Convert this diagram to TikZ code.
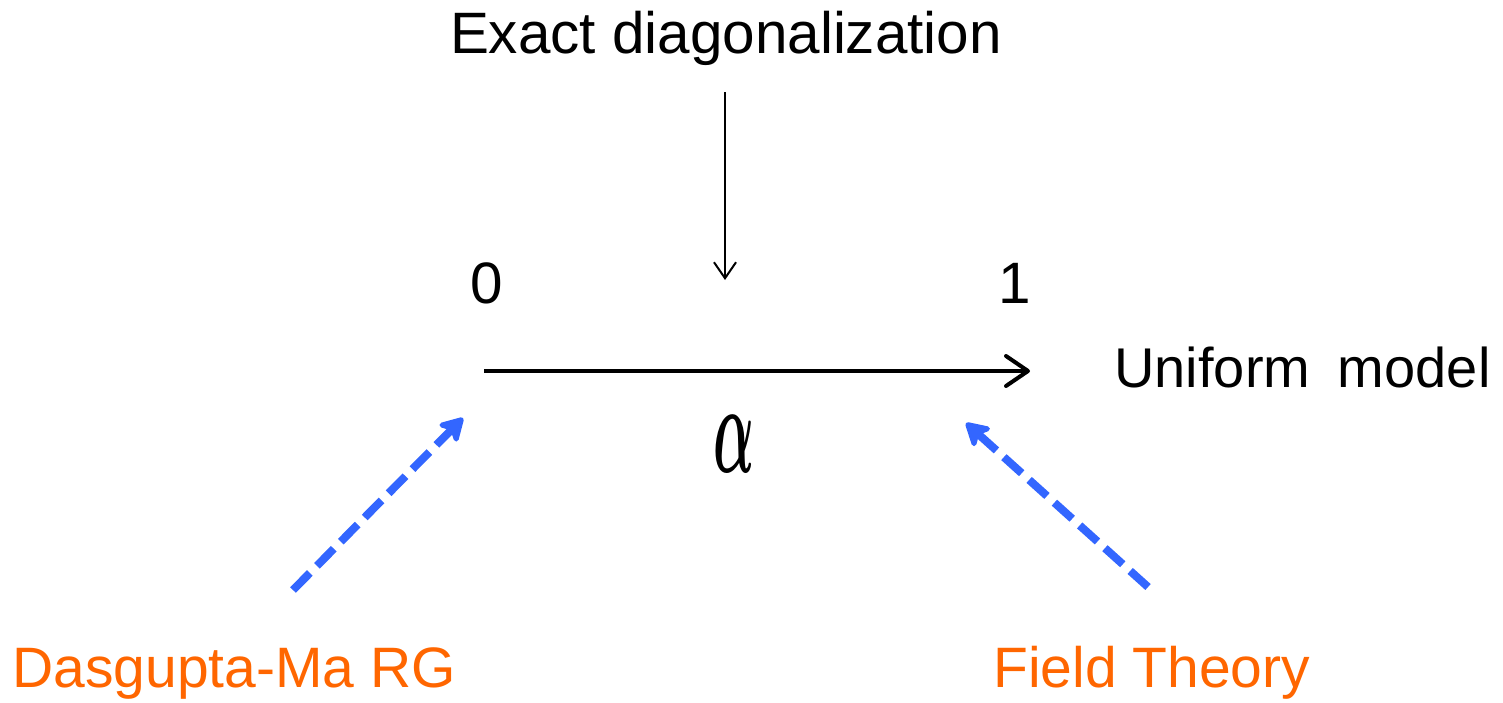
\documentclass[tikz,border=0pt]{standalone}
\usepackage{amsmath}
\usepackage{fontspec}
\setmainfont{Liberation Sans}
\usetikzlibrary{arrows.meta}
\definecolor{dblue}{HTML}{3366FF}
\definecolor{lorange}{HTML}{FF6600}
\tikzset{
  lbl/.style={inner sep=0pt, font=\fontsize{29.2}{30}\selectfont},
  olbl/.style={lbl, text=lorange, font=\fontsize{28.5}{30}\selectfont},
  thinarr/.style={line width=1pt, -{Straight Barb[length=8pt,width=11pt,line width=1pt]}},
  mainarr/.style={line width=2pt, -{Straight Barb[length=11pt,width=15pt,line width=2pt,round]}},
  bluearr/.style={dblue, line width=4pt, dash pattern=on 12pt off 5pt, -{Stealth[length=14pt,width=16pt,inset=4pt,round]}}
}
\begin{document}
\begin{tikzpicture}[x=0.5pt,y=-0.5pt]
\useasboundingbox (0,0) rectangle (1503,702);
\node[lbl, anchor=base] (ed) at (726,53) {Exact diagonalization};
\coordinate (edS) at (725,92);
\coordinate (edE) at (725,280);
\draw[thinarr] (edS) -- (edE);
\node[lbl, anchor=base] (zero) at (487,303) {0};
\node[lbl, anchor=base] (one) at (1015,303) {1};
\coordinate (axS) at (484,371);
\coordinate (axE) at (1030,371);
\draw[mainarr] (axS) -- (axE);
\node[lbl, anchor=base west, font=\fontsize{28}{30}\selectfont] (um) at (1114,387) {Uniform\hspace{6pt} model};
\node[inner sep=0pt] (alpha) at (734,444) {\scalebox{2.7}[6.4]{$\boldsymbol{\alpha}$}};
\node[olbl, anchor=base west] (dm) at (12,687) {Dasgupta-Ma RG};
\node[olbl, anchor=base west] (ft) at (993,687) {Field Theory};
\coordinate (b1S) at (293,590);
\coordinate (b1E) at (463,418);
\coordinate (b2S) at (1148,587);
\coordinate (b2E) at (966,423);
\draw[bluearr] (b1S) -- (b1E);
\draw[bluearr] (b2S) -- (b2E);
\end{tikzpicture}
\end{document}
